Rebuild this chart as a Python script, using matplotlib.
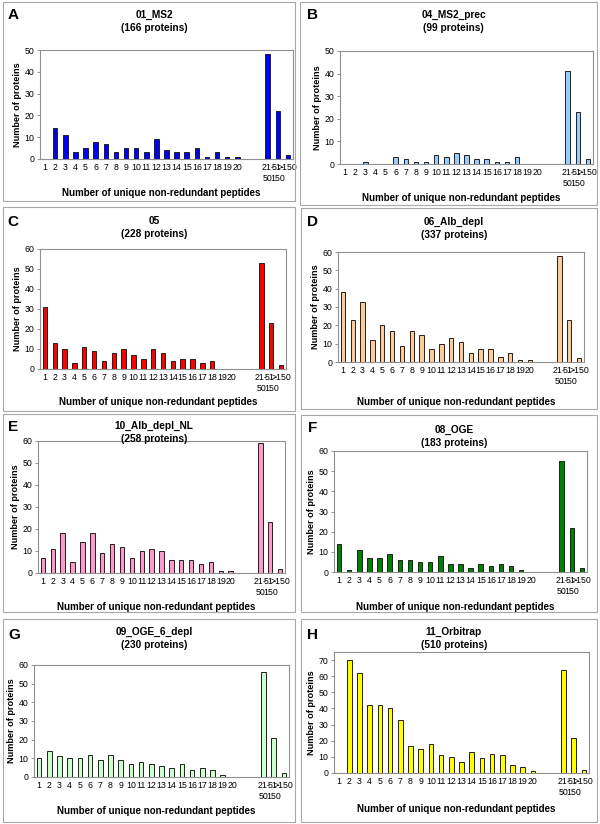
import numpy as np
import matplotlib
matplotlib.use("Agg")
import matplotlib.pyplot as plt
from matplotlib.patches import Rectangle

plt.rcParams["font.family"] = ["Liberation Sans", "DejaVu Sans"]

W, H = 600, 824

# ------------------------------------------------------------------
# Data
# ------------------------------------------------------------------
categories = [str(i) for i in range(1, 21)] + ["", "", "21-\n50", "51-\n150", ">150"]

ms2_01 = [0, 14, 11, 3, 5, 8, 7, 3, 5, 5, 3, 9, 4, 3, 3, 5, 1, 3, 1, 1, 0, 0, 48, 22, 2]
ms2_prec_04 = [0, 0, 1, 0, 0, 3, 2, 1, 1, 4, 3, 5, 4, 2, 2, 1, 1, 3, 0, 0, 0, 0, 41, 23, 2]
run_05 = [31, 13, 10, 3, 11, 9, 4, 8, 10, 7, 5, 10, 8, 4, 5, 5, 3, 4, 0, 0, 0, 0, 53, 23, 2]
alb_depl_06 = [38, 23, 33, 12, 20, 17, 9, 17, 15, 7, 10, 13, 11, 5, 7, 7, 3, 5, 1, 1, 0, 0, 58, 23, 2]
alb_depl_nl_10 = [7, 11, 18, 5, 14, 18, 9, 13, 12, 7, 10, 11, 10, 6, 6, 6, 4, 5, 1, 1, 0, 0, 59, 23, 2]
oge_08 = [14, 1, 11, 7, 7, 9, 6, 6, 5, 5, 8, 4, 4, 2, 4, 3, 4, 3, 1, 0, 0, 0, 55, 22, 2]
oge_6_depl_09 = [10, 14, 11, 10, 10, 12, 9, 12, 9, 7, 8, 7, 6, 5, 7, 4, 5, 4, 1, 0, 0, 0, 56, 21, 2]
orbitrap_11 = [0, 70, 62, 42, 42, 40, 33, 17, 15, 18, 11, 10, 7, 13, 9, 12, 11, 5, 4, 1, 0, 0, 64, 22, 2]

letters = ["A", "B", "C", "D", "E", "F", "G", "H"]
names = ["01_MS2", "04_MS2_prec", "05", "06_Alb_depl",
         "10_Alb_depl_NL", "08_OGE", "09_OGE_6_depl", "11_Orbitrap"]
totals = [166, 99, 228, 337, 258, 183, 230, 510]
series = [ms2_01, ms2_prec_04, run_05, alb_depl_06,
          alb_depl_nl_10, oge_08, oge_6_depl_09, orbitrap_11]
colors = ["#0000FF", "#99CCFF", "#FF0000", "#FFCC99",
          "#FF99CC", "#008000", "#CCFFCC", "#FFFF00"]
ymax = [50, 50, 60, 60, 60, 60, 60, 75]
ytop_tick = [50, 50, 60, 60, 60, 60, 60, 70]

# ------------------------------------------------------------------
# Layout in pixels (x0, y0, x1, y1), y measured from top
# ------------------------------------------------------------------
boxes = [(3, 2, 295, 201), (300, 2, 597, 205),
         (3, 207, 295, 411), (301, 208, 597, 409),
         (3, 414, 295, 612), (301, 415, 597, 612),
         (3, 619, 295, 822), (301, 619, 597, 822)]
plots = [(40, 50, 293, 159), (340, 51, 593, 164),
         (40, 249, 286, 369), (338, 252, 584, 362),
         (38, 441, 285, 573), (334, 451, 587, 572),
         (34, 665, 289, 777), (334, 652, 589, 773)]
title_y = [15, 15, 221, 222, 426, 430, 632, 632]
letter_xy = [(13, 15), (313, 15), (13, 222), (313, 222),
             (13, 427), (313, 428), (14, 635), (313, 635)]
xlabel_y = [193, 198, 402, 402, 607, 607, 811, 809]


def fx(x):
    return x / W


def fy(y):
    return 1 - y / H


fig = plt.figure(figsize=(W / 100, H / 100), dpi=100)

for i in range(8):
    bx0, by0, bx1, by1 = boxes[i]
    fig.patches.append(Rectangle((fx(bx0), fy(by1)), fx(bx1 - bx0), (by1 - by0) / H,
                                 transform=fig.transFigure, fill=False,
                                 edgecolor="#A8A8A8", lw=0.8))

    px0, py0, px1, py1 = plots[i]
    ax = fig.add_axes([fx(px0), fy(py1), fx(px1 - px0), (py1 - py0) / H])
    x = np.arange(1, len(categories) + 1)
    ax.bar(x, series[i], width=0.45, color=colors[i], edgecolor="#202020", lw=0.7)
    ax.set_xlim(0.5, len(categories) + 0.5)
    ax.set_ylim(0, ymax[i])
    ax.set_yticks(np.arange(0, ytop_tick[i] + 1, 10))
    ax.set_xticks(x)
    ax.set_xticklabels(categories, fontsize=6.3)
    ax.tick_params(axis="x", length=0, pad=3)
    ax.tick_params(axis="y", length=2.5, width=0.6, color="#808080",
                   labelsize=6.3, pad=1.5)
    for s in ax.spines.values():
        s.set_color("#909090")
        s.set_linewidth(0.8)
    ax.set_ylabel("Number of proteins", fontsize=6.6, fontweight="bold", labelpad=2)

    cx = (bx0 + bx1) / 2 + 5
    fig.text(fx(cx), fy(title_y[i]), names[i], ha="center", va="center",
             fontsize=7.3, fontweight="bold")
    fig.text(fx(cx), fy(title_y[i] + 13), f"({totals[i]} proteins)", ha="center",
             va="center", fontsize=7.3, fontweight="bold")
    lx, ly = letter_xy[i]
    fig.text(fx(lx), fy(ly), letters[i], ha="center", va="center",
             fontsize=11, fontweight="bold")
    fig.text(fx((px0 + px1) / 2 - 5), fy(xlabel_y[i]),
             "Number of unique non-redundant peptides", ha="center", va="center",
             fontsize=7, fontweight="bold")

fig.savefig("out.png", dpi=100)
